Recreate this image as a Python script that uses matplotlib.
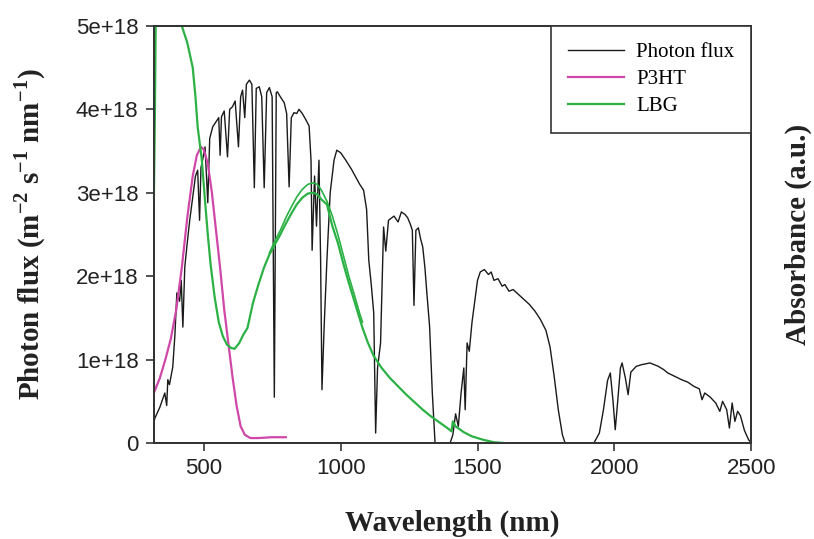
import matplotlib
matplotlib.use('Agg')
import matplotlib.pyplot as plt

# ── Data (flux values in units of 1e18) ──
flux_wl = [318, 322, 340, 358, 365, 369, 375, 387, 395, 402, 412, 418, 424, 431,
           440, 449, 460, 470, 478, 485, 490, 496, 505, 515, 522, 533, 545, 555,
           560, 565, 575, 587, 595, 605, 615, 627, 635, 642, 650, 656, 667, 676,
           685, 692, 703, 712, 721, 730, 740, 750, 758, 765, 769, 780, 794, 803,
           812, 820, 830, 840, 848, 860, 874, 885, 892, 896, 905, 912, 921, 927,
           932, 940, 950, 962, 976, 986, 1000, 1019, 1040, 1055, 1070, 1084, 1095,
           1103, 1112, 1121, 1128, 1135, 1146, 1157, 1165, 1175, 1195, 1210, 1222,
           1235, 1245, 1255, 1262, 1268, 1275, 1284, 1292, 1300, 1308, 1315, 1325,
           1335, 1345, 1400, 1410, 1420, 1430, 1440, 1450, 1455, 1462, 1470, 1480,
           1490, 1500, 1510, 1525, 1540, 1550, 1560, 1575, 1590, 1600, 1615, 1630,
           1650, 1670, 1690, 1710, 1730, 1750, 1765, 1780, 1795, 1810, 1820, 1925,
           1945, 1960, 1975, 1985, 1995, 2003, 2012, 2022, 2028, 2040, 2050, 2060,
           2080, 2100, 2130, 2160, 2180, 2195, 2220, 2245, 2268, 2290, 2310, 2320,
           2330, 2350, 2370, 2385, 2395, 2410, 2420, 2430, 2440, 2450, 2460, 2475,
           2490, 2500]
flux = [0.25, 0.30, 0.43, 0.60, 0.45, 0.76, 0.70, 0.91, 1.30, 1.80, 1.70, 1.95, 1.39, 2.11,
        2.40, 2.67, 2.95, 3.20, 3.27, 2.67, 3.30, 3.39, 3.55, 2.88, 3.65, 3.79, 3.85, 3.90,
        3.45, 3.91, 3.98, 3.43, 4.00, 4.03, 4.10, 3.55, 4.15, 4.23, 3.90, 4.30, 4.35, 4.30,
        3.06, 4.25, 4.27, 4.15, 3.06, 4.20, 4.26, 4.15, 0.55, 4.20, 4.21, 4.15, 4.08, 3.95,
        3.07, 3.90, 3.96, 3.95, 4.00, 3.95, 3.87, 3.80, 3.39, 2.31, 3.20, 2.60, 3.39, 2.20,
        0.64, 1.40, 2.19, 3.00, 3.39, 3.51, 3.48, 3.39, 3.28, 3.19, 3.10, 3.03, 2.80,
        2.19, 1.90, 1.56, 0.12, 0.90, 1.20, 2.59, 2.30, 2.67, 2.72, 2.65, 2.77,
        2.74, 2.70, 2.62, 2.55, 1.65, 2.55, 2.58, 2.45, 2.35, 2.10, 1.80, 1.40,
        0.60, 0.00, 0.00, 0.10, 0.35, 0.20, 0.60, 0.90, 0.40, 1.20, 1.10, 1.45,
        1.70, 1.95, 2.05, 2.08, 2.02, 2.05, 1.95, 1.97, 1.88, 1.90, 1.82, 1.84,
        1.78, 1.72, 1.66, 1.58, 1.48, 1.35, 1.15, 0.80, 0.40, 0.10, 0.00, 0.00,
        0.12, 0.40, 0.75, 0.84, 0.50, 0.16, 0.50, 0.90, 0.96, 0.78, 0.58, 0.85,
        0.92, 0.94, 0.96, 0.92, 0.88, 0.84, 0.80, 0.76, 0.73, 0.68, 0.65, 0.52,
        0.60, 0.55, 0.48, 0.38, 0.50, 0.40, 0.18, 0.48, 0.26, 0.38, 0.33, 0.15,
        0.04, 0.00]

p3ht_wl = [318, 340, 360, 380, 400, 420, 440, 460, 475, 490, 500, 515, 530, 545,
           560, 575, 590, 605, 620, 635, 650, 670, 700, 750, 800]
p3ht = [0.60, 0.78, 1.00, 1.25, 1.60, 2.10, 2.70, 3.20, 3.45, 3.55, 3.52, 3.35, 3.00,
        2.55, 2.10, 1.60, 1.20, 0.80, 0.45, 0.20, 0.10, 0.06, 0.06, 0.07, 0.07]

lbg_wl = [318, 322, 326, 400, 420, 440, 460, 470, 478, 493, 505, 515, 525, 540, 555,
          570, 585, 600, 613, 630, 645, 660, 680, 700, 720, 740, 760, 780, 800, 820,
          840, 860, 880, 900, 915, 930, 950, 970, 990, 1010, 1030, 1055, 1080, 1100,
          1120, 1150, 1180, 1210, 1240, 1270, 1300, 1330, 1360, 1390, 1405, 1410,
          1420, 1450, 1480, 1520, 1560, 1600]
lbg = [2.90, 4.00, 5.50, 5.50, 5.00, 4.80, 4.50, 4.15, 3.79, 3.40, 2.90, 2.50, 2.15,
       1.75, 1.45, 1.28, 1.18, 1.14, 1.13, 1.20, 1.30, 1.38, 1.68, 1.90, 2.10, 2.26,
       2.38, 2.50, 2.63, 2.75, 2.86, 2.94, 2.99, 3.00, 2.98, 2.92, 2.86, 2.60, 2.40,
       2.15, 1.92, 1.65, 1.38, 1.20, 1.05, 0.90, 0.78, 0.68, 0.58, 0.49, 0.40, 0.32,
       0.25, 0.18, 0.14, 0.26, 0.20, 0.13, 0.08, 0.04, 0.01, 0.00]

# second, slightly offset LBG trace around the low-energy peak
lbg2_wl = [740, 760, 780, 800, 820, 840, 860, 880, 900, 915, 930, 950, 970, 990,
           1010, 1030, 1050, 1070, 1080]
lbg2 = [2.28, 2.42, 2.55, 2.70, 2.83, 2.95, 3.04, 3.10, 3.12, 3.10, 3.03, 2.90,
        2.72, 2.50, 2.25, 2.00, 1.78, 1.55, 1.45]

x_ticks = [500, 1000, 1500, 2000, 2500]
y_ticks = [0, 1, 2, 3, 4, 5]
y_ticklabels = ['0', '1e+18', '2e+18', '3e+18', '4e+18', '5e+18']

# ── Style ──
C_FLUX = '#1a1a1a'
C_P3HT = '#cf47a8'
C_LBG = '#2cb145'
plt.rcParams['mathtext.fontset'] = 'custom'
plt.rcParams['mathtext.bf'] = 'Liberation Serif:bold'
plt.rcParams['mathtext.rm'] = 'Liberation Serif:bold'

fig = plt.figure(figsize=(8.14, 5.39), dpi=100)
ax = fig.add_axes([0.189, 0.178, 0.734, 0.774])
ax2 = ax.twinx()

ax.plot(flux_wl, flux, color=C_FLUX, lw=1.0, label='Photon flux')
ax2.plot(p3ht_wl, p3ht, color=C_P3HT, lw=1.6, label='P3HT')
ax2.plot(lbg_wl, lbg, color=C_LBG, lw=1.6, label='LBG')
ax2.plot(lbg2_wl, lbg2, color=C_LBG, lw=1.2)

for a in (ax, ax2):
    a.set_xlim(318, 2500)
    a.set_ylim(0, 5)
    for s in a.spines.values():
        s.set_color('#333333')
        s.set_linewidth(1.3)

ax.set_xticks(x_ticks)
ax.set_yticks(y_ticks)
ax.set_yticklabels(y_ticklabels)
ax.tick_params(direction='out', length=6, width=1.2, color='#333333',
               labelsize=16, pad=5)
for lbl in ax.get_xticklabels() + ax.get_yticklabels():
    lbl.set_family('Liberation Sans')
    lbl.set_color('#222222')
ax2.set_yticks([])

serif = dict(family='Liberation Serif', fontweight='bold', fontsize=21, color='#222222')
ax.set_xlabel('Wavelength (nm)', labelpad=22, **serif)
ax.set_ylabel(r'Photon flux (m$^{\mathbf{-2}}$ s$^{\mathbf{-1}}$ nm$^{\mathbf{-1}}$)',
              labelpad=20, **serif)
ax2.set_ylabel('Absorbance (a.u.)', labelpad=24, **serif)

handles = ax.get_legend_handles_labels()[0] + ax2.get_legend_handles_labels()[0]
leg = ax2.legend(handles=handles, loc='upper right', borderaxespad=0,
                 fancybox=False, framealpha=1, edgecolor='#333333',
                 prop={'family': 'Liberation Serif', 'size': 15},
                 handlelength=2.7, handletextpad=0.6, labelspacing=0.35,
                 borderpad=0.8)
leg.get_frame().set_linewidth(1.2)

fig.savefig('out.png', dpi=100)
